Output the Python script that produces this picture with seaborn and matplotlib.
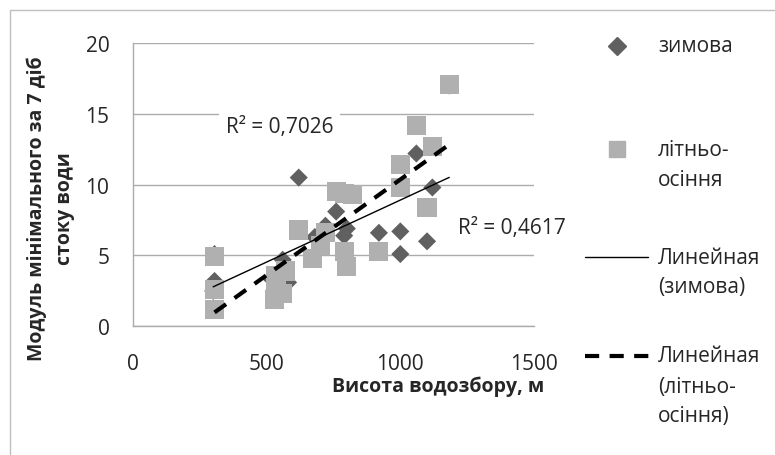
import numpy as np
import pandas as pd
import matplotlib
matplotlib.use('Agg')
import matplotlib.pyplot as plt
from matplotlib.lines import Line2D
from matplotlib.patches import Rectangle
import seaborn as sns

# winter series (зимова)
winter_x = [300, 305, 305, 520, 530, 560, 580, 620, 680, 720, 760, 790, 800, 920, 1000, 1000, 1060, 1100, 1120, 1183]
winter_y = [2.5, 3.2, 5.1, 3.3, 2.6, 4.7, 3.1, 10.5, 6.3, 7.1, 8.1, 6.4, 6.9, 6.6, 6.7, 5.1, 12.2, 6.0, 9.8, 17.0]

# summer-autumn series (літньо-осіння)
summer_x = [305, 305, 305, 530, 535, 535, 560, 570, 620, 670, 700, 720, 760, 790, 790, 800, 820, 920, 1000, 1000, 1060, 1100, 1120, 1183]
summer_y = [4.9, 2.6, 1.2, 1.9, 2.75, 3.6, 2.3, 3.9, 6.8, 4.8, 5.7, 6.6, 9.5, 9.4, 5.3, 4.2, 9.3, 5.3, 11.4, 9.8, 14.2, 8.4, 12.7, 17.1]

x_ticks = [0, 500, 1000, 1500]
y_ticks = [0, 5, 10, 15, 20]
r2_labels = ['R² = 0,7026', 'R² = 0,4617']

sns.set_style('white')
plt.rcParams['font.family'] = ['Open Sans', 'DejaVu Sans']

winter = pd.DataFrame({'x': winter_x, 'y': winter_y})
summer = pd.DataFrame({'x': summer_x, 'y': summer_y})

fig = plt.figure(figsize=(7.75, 4.56), dpi=100)
ax = fig.add_axes([0.1716, 0.2822, 0.5174, 0.6213])

dark = '#606060'
light = '#B0B0B0'
grid_c = '#ABABAB'
dash = (0, (3.4, 2.5))

sns.scatterplot(data=winter, x='x', y='y', marker='D', s=85, color=dark,
                edgecolor='none', ax=ax, zorder=3)
sns.scatterplot(data=summer, x='x', y='y', marker='s', s=190, color=light,
                edgecolor='none', ax=ax, zorder=4)
sns.regplot(data=winter, x='x', y='y', scatter=False, ci=None, truncate=True, ax=ax,
            line_kws={'color': 'black', 'lw': 1.0, 'zorder': 5})
sns.regplot(data=summer, x='x', y='y', scatter=False, ci=None, truncate=True, ax=ax,
            line_kws={'color': 'black', 'lw': 3.0, 'ls': dash, 'zorder': 6,
                      'dash_capstyle': 'butt'})

ax.set_xlim(0, 1500)
ax.set_ylim(0, 20)
ax.set_xticks(x_ticks)
ax.set_yticks(y_ticks)
ax.yaxis.grid(True, color=grid_c, lw=1.0)
ax.set_axisbelow(True)
for side in ['top', 'right']:
    ax.spines[side].set_visible(False)
for side in ['left', 'bottom']:
    ax.spines[side].set_color(grid_c)
    ax.spines[side].set_linewidth(1.0)
ax.tick_params(axis='y', direction='out', length=6, color=grid_c, pad=11, labelsize=15)
ax.tick_params(axis='x', direction='out', length=5, color=grid_c, pad=14, labelsize=15)
ax.set_xlabel('')
ax.set_ylabel('')

# R² labels with white background (they cut the gridline)
ax.text(548, 14.1, r2_labels[0], ha='center', va='center', fontsize=15, zorder=7,
        bbox=dict(facecolor='white', edgecolor='none', pad=5))
ax.text(1418, 7.0, r2_labels[1], ha='center', va='center', fontsize=15, zorder=7,
        clip_on=False)

# axis titles
fig.text(438 / 775, 1 - 387 / 456, 'Висота водозбору, м', ha='center', va='center',
         fontsize=14, fontweight='bold')
fig.text(51 / 775, 1 - 209 / 456, 'Модуль мінімального за 7 діб\nстоку води', rotation=90,
         ha='center', va='center', multialignment='center', fontsize=14,
         fontweight='bold', linespacing=1.5)

# legend, drawn by hand to keep the handle on the first text line
W, H = 775, 456
fig.add_artist(Line2D([617 / W], [1 - 47 / H], marker='D', ms=9, color=dark, ls='none',
                      transform=fig.transFigure))
fig.add_artist(Line2D([617 / W], [1 - 150 / H], marker='s', ms=11, color=light, ls='none',
                      transform=fig.transFigure))
fig.add_artist(Line2D([585 / W, 648 / W], [1 - 258 / H] * 2, color='black', lw=1.0,
                      transform=fig.transFigure))
fig.add_artist(Line2D([585 / W, 650 / W], [1 - 357 / H] * 2, color='black', lw=3.0,
                      ls=dash, dash_capstyle='butt', transform=fig.transFigure))
legend_rows = [
    (47, ['зимова']),
    (150, ['літньо-', 'осіння']),
    (258, ['Линейная', '(зимова)']),
    (357, ['Линейная', '(літньо-', 'осіння)']),
]
for y0, lines in legend_rows:
    for i, line in enumerate(lines):
        fig.text(658 / W, 1 - (y0 + 30 * i) / H, line, ha='left', va='center', fontsize=15)

# outer chart border
fig.add_artist(Rectangle((10 / W, -0.1), 1.2, 1 - 11 / H + 0.1, transform=fig.transFigure,
                         facecolor='none', edgecolor='#BFBFBF', lw=1.0))

fig.savefig('out.png', dpi=100)
